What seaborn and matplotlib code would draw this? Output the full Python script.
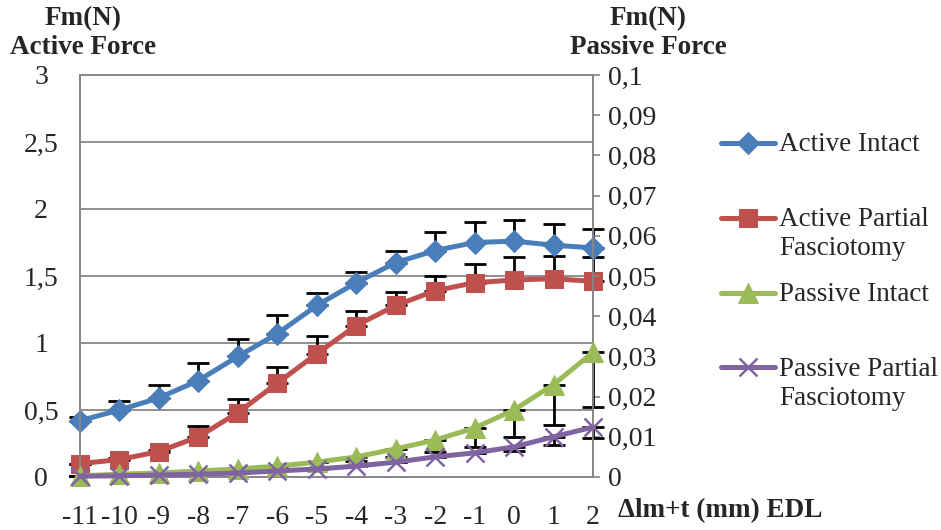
import numpy as np
import seaborn as sns
import matplotlib.pyplot as plt
from matplotlib.lines import Line2D
from matplotlib.legend_handler import HandlerLine2D
from matplotlib.ticker import FuncFormatter

# elongation steps (mm)
dl = [-11, -10, -9, -8, -7, -6, -5, -4, -3, -2, -1, 0, 1, 2]

# active force (N), left axis
active_intact = [0.42, 0.50, 0.59, 0.72, 0.90, 1.07, 1.28, 1.45, 1.60, 1.69, 1.75, 1.76, 1.73, 1.71]
active_intact_err = [0.03, 0.07, 0.10, 0.13, 0.13, 0.14, 0.09, 0.08, 0.09, 0.14, 0.15, 0.16, 0.16, 0.14]
active_partial = [0.10, 0.13, 0.19, 0.30, 0.48, 0.70, 0.92, 1.13, 1.28, 1.39, 1.45, 1.47, 1.48, 1.46]
active_partial_err = [0.0, 0.01, 0.01, 0.08, 0.10, 0.12, 0.13, 0.11, 0.10, 0.11, 0.14, 0.17, 0.17, 0.18]

# passive force (N), right axis
passive_intact = [0.0003, 0.0007, 0.0010, 0.0015, 0.0020, 0.0027, 0.0037, 0.0050, 0.0070, 0.0092,
                  0.0122, 0.0167, 0.0230, 0.0310]
passive_intact_err = [0, 0, 0, 0, 0, 0, 0, 0.001, 0.002, 0.003, 0.0047, 0.0067, 0.0100, 0.0135]
passive_partial = [0.0002, 0.0003, 0.0005, 0.0007, 0.0010, 0.0015, 0.0020, 0.0027, 0.0037, 0.0050,
                   0.0060, 0.0075, 0.0100, 0.0124]
passive_partial_err = [0, 0, 0, 0, 0, 0, 0, 0, 0, 0, 0, 0.001, 0.002, 0.0027]

labels = ["Active Intact", "Active Partial\nFasciotomy", "Passive Intact", "Passive Partial\nFasciotomy"]
colors = ["#4A7EBB", "#C0504D", "#9BBB59", "#8064A2"]

sns.set_style("white")
plt.rcParams['font.family'] = ['Liberation Serif', 'DejaVu Serif']
plt.rcParams['axes.unicode_minus'] = False

fig = plt.figure(figsize=(9.41, 5.3), dpi=100)
ax = fig.add_axes([80/941, 53/530, 513/941, 402/530])
ax2 = ax.twinx()

grey = "#878787"
eb = dict(fmt='none', ecolor='black', elinewidth=2, capsize=8, capthick=2, clip_on=False)

ax.errorbar(dl, active_intact, yerr=[np.zeros(len(dl)), active_intact_err], zorder=2, **eb)
ax.errorbar(dl, active_partial, yerr=[np.zeros(len(dl)), active_partial_err], zorder=2, **eb)
ax2.errorbar(dl, passive_intact, yerr=[passive_intact_err, np.zeros(len(dl))], zorder=2, **eb)
ax2.errorbar(dl, passive_partial, yerr=[passive_partial_err, np.zeros(len(dl))], zorder=2, **eb)

handles = []
sns.lineplot(x=dl, y=active_intact, ax=ax, color=colors[0], marker='D', markersize=11.5,
             markeredgecolor=colors[0], linewidth=3.6, legend=False, zorder=3, clip_on=False)
handles.append(ax.lines[-1])
sns.lineplot(x=dl, y=active_partial, ax=ax, color=colors[1], marker='s', markersize=13,
             markeredgecolor=colors[1], linewidth=3.6, legend=False, zorder=3, clip_on=False)
handles.append(ax.lines[-1])
sns.lineplot(x=dl, y=passive_intact, ax=ax2, color=colors[2], marker='^', markersize=14,
             markeredgecolor=colors[2], linewidth=3.6, legend=False, zorder=3, clip_on=False)
handles.append(ax2.lines[-1])
sns.lineplot(x=dl, y=passive_partial, ax=ax2, color=colors[3], marker='x', markersize=13,
             markeredgecolor=colors[3], markeredgewidth=1.8, linewidth=3.6, legend=False,
             zorder=3, clip_on=False)
handles.append(ax2.lines[-1])

ax.set_xlim(-11, 2)
ax.set_ylim(0, 3)
ax2.set_ylim(0, 0.1)
ax.set_xticks(dl)
ax.set_yticks(np.arange(0, 3.01, 0.5))
ax2.set_yticks(np.arange(0, 0.1001, 0.01))
comma = FuncFormatter(lambda v, p: f"{v:.2f}".rstrip('0').rstrip('.').replace('.', ','))
ax.yaxis.set_major_formatter(comma)
ax2.yaxis.set_major_formatter(comma)
ax.set_xlabel("")
ax.set_ylabel("")
ax2.set_ylabel("")

ax.yaxis.grid(True, color=grey, linewidth=1.3)
ax.xaxis.grid(False)
ax.set_axisbelow(True)
for a in (ax, ax2):
    for s in a.spines.values():
        s.set_color(grey)
        s.set_linewidth(1.3)

fs = 20
ax.tick_params(axis='y', length=0, pad=28, labelsize=fs)
ax.tick_params(axis='x', length=0, pad=20, labelsize=fs)
ax2.tick_params(axis='y', right=True, length=5, width=1.2, color=grey, pad=6,
                labelsize=fs, direction='out')
for t in ax.get_yticklabels():
    t.set_horizontalalignment('center')

fig.text(83/941, 1 - 33/530, "Fm(N)\nActive Force", ha='center', va='center',
         fontweight='bold', fontsize=19.5)
fig.text(648/941, 1 - 33/530, "Fm(N)\nPassive Force", ha='center', va='center',
         fontweight='bold', fontsize=19.5)
fig.text(618/941, 1 - 511/530, "Δlm+t (mm) EDL", ha='left', va='center',
         fontweight='bold', fontsize=19.5)


class TopLine(HandlerLine2D):
    # put the legend line beside the first text line, like Excel does
    def create_artists(self, legend, orig_handle, xdescent, ydescent, width, height, fontsize, trans):
        arts = super().create_artists(legend, orig_handle, xdescent, ydescent,
                                      width, height, fontsize, trans)
        for a in arts:
            a.set_ydata(np.asarray(a.get_ydata()) + 0.6 * fontsize)
        return arts


leg_labels = [l if "\n" in l else l + "\n " for l in labels]
fig.legend(handles, leg_labels, loc='upper left', bbox_to_anchor=(721/941, 1 - 132/530),
           frameon=False, fontsize=19.5, handlelength=2.0, handletextpad=0.15,
           labelspacing=0.78, borderpad=0, borderaxespad=0,
           handler_map={Line2D: TopLine()})

fig.savefig("out.png", dpi=100)
